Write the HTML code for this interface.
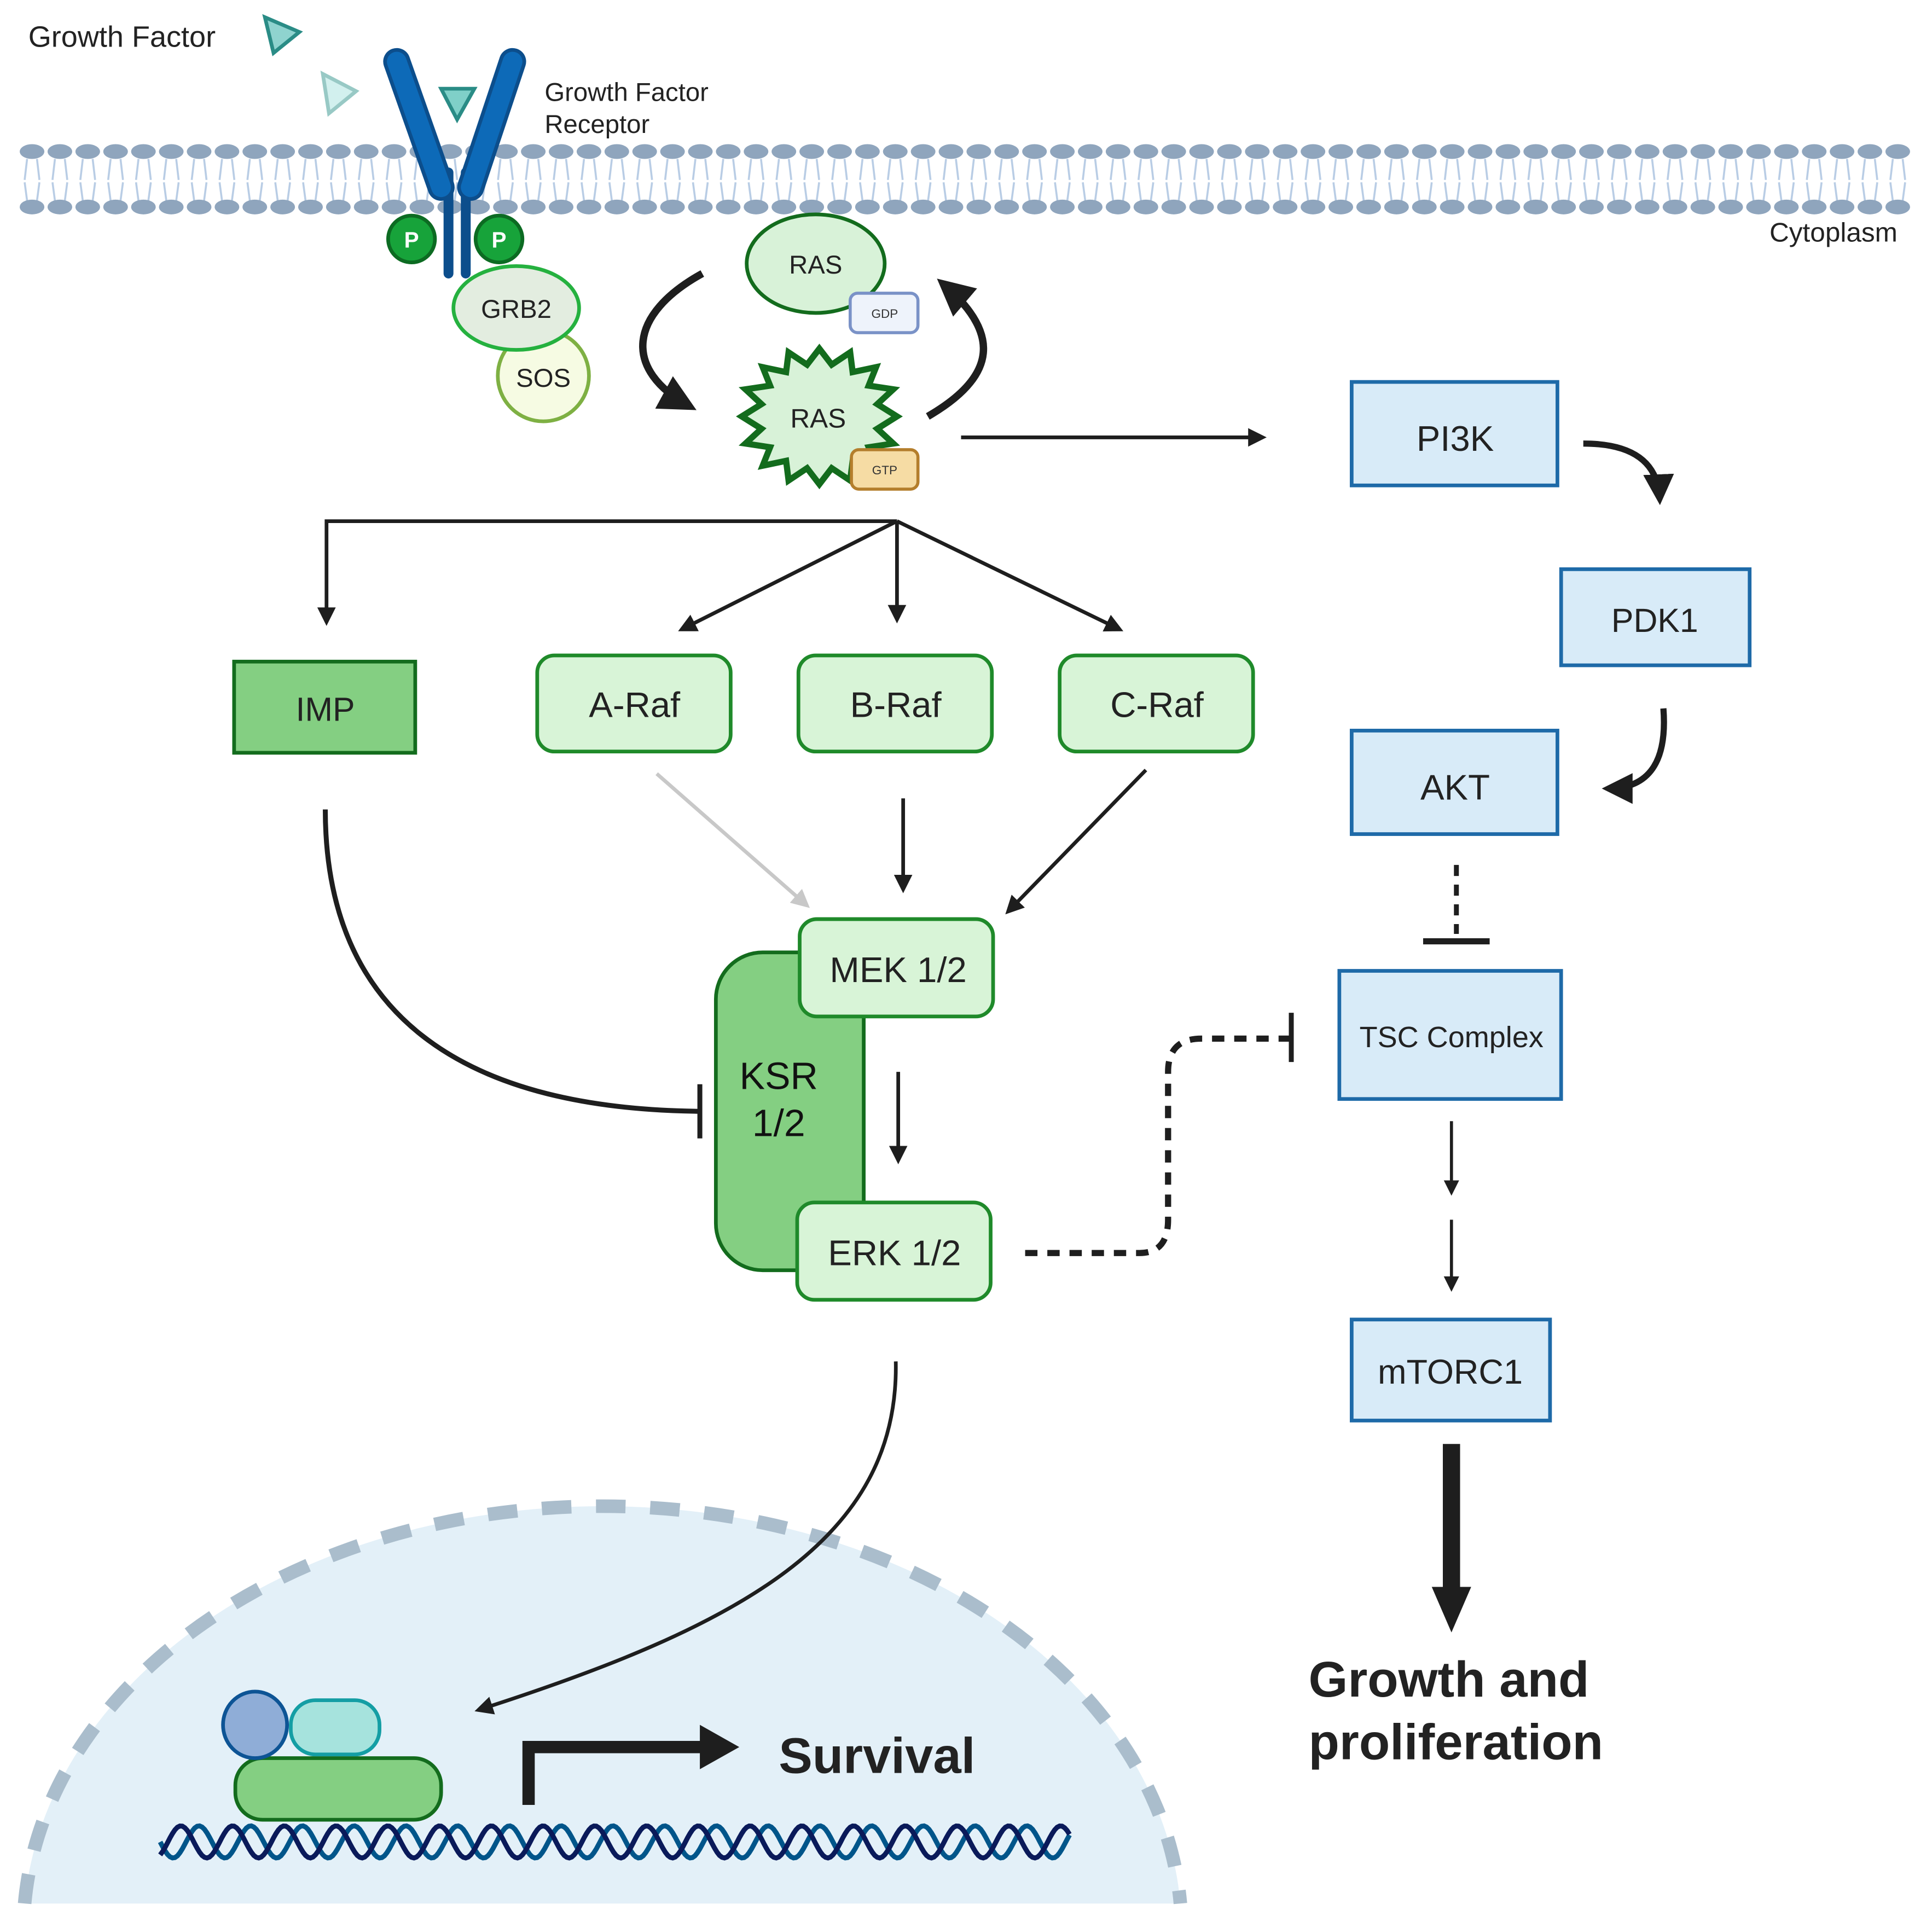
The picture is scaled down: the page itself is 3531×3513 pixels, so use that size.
<!DOCTYPE html>
<html><head><meta charset="utf-8"><style>html,body{margin:0;padding:0;background:#fff}svg{display:block}text{font-family:"Liberation Sans",sans-serif}</style></head>
<body>
<svg width="3531" height="3513" viewBox="0 0 1568 1560" xmlns="http://www.w3.org/2000/svg">
<defs>
<marker id="ah" viewBox="0 0 10 10" refX="8" refY="5" markerWidth="5" markerHeight="5" orient="auto-start-reverse" markerUnits="strokeWidth"><path d="M0,0 L10,5 L0,10 z" fill="#1e1e1e"/></marker>
<marker id="ahg" viewBox="0 0 10 10" refX="8" refY="5" markerWidth="5" markerHeight="5" orient="auto" markerUnits="strokeWidth"><path d="M0,0 L10,5 L0,10 z" fill="#c8c8c8"/></marker>
</defs>
<rect width="1568" height="1560" fill="#fff"/>
<!-- nucleus -->
<path d="M20,1545 A470,345 0 0 1 958,1545 Z" fill="#e3f0f8"/>
<path d="M20,1545 A470,345 0 0 1 958,1545" fill="none" stroke="#aabdcc" stroke-width="11" stroke-dasharray="24,20"/>
<g id="heads"></g>
<script>
(function(){var s="http://www.w3.org/2000/svg";var g=document.getElementById("heads");
for(var x=26;x<1560;x+=22.6){var p=document.createElementNS(s,"path");p.setAttribute("d","M"+(x-4)+",129 l-2,17 M"+(x+4)+",129 l2,17 M"+(x-4)+",163 l-2,-15 M"+(x+4)+",163 l2,-15");p.setAttribute("stroke","#b9cde5");p.setAttribute("stroke-width","1.6");p.setAttribute("fill","none");g.appendChild(p);
[123,168].forEach(function(y){var e=document.createElementNS(s,"ellipse");e.setAttribute("cx",x);e.setAttribute("cy",y);e.setAttribute("rx",10);e.setAttribute("ry",6);e.setAttribute("fill","#8fa5bd");g.appendChild(e);});}
})();
</script>
<text x="1540" y="196" font-size="22" text-anchor="end" fill="#222">Cytoplasm</text>
<!-- growth factor -->
<text x="23" y="38" font-size="24" fill="#222">Growth Factor</text>
<path d="M215,14 L243,26 L222,43 Z" fill="#8fd3cf" stroke="#2a8c86" stroke-width="3"/>
<path d="M262,60 L289,74 L267,92 Z" fill="#d2f0ee" stroke="#98c9c5" stroke-width="3"/>
<!-- receptor -->
<path d="M364,140 V222 M378,140 V222" stroke="#0c4e8c" stroke-width="8" stroke-linecap="round"/>
<path d="M322,50 L358,152" stroke="#0c4e8c" stroke-width="22" stroke-linecap="round"/>
<path d="M322,50 L358,152" stroke="#0d6ab8" stroke-width="16" stroke-linecap="round"/>
<path d="M416,50 L382,152" stroke="#0c4e8c" stroke-width="22" stroke-linecap="round"/>
<path d="M416,50 L382,152" stroke="#0d6ab8" stroke-width="16" stroke-linecap="round"/>
<path d="M358,72 L385,72 L371,97 Z" fill="#7fd0c8" stroke="#2a8c86" stroke-width="3"/>
<text x="442" y="82" font-size="21" fill="#222">Growth Factor</text>
<text x="442" y="108" font-size="21" fill="#222">Receptor</text>
<circle cx="334" cy="194" r="19" fill="#17a33a" stroke="#0c6b22" stroke-width="3"/>
<circle cx="405" cy="194" r="19" fill="#17a33a" stroke="#0c6b22" stroke-width="3"/>
<text x="334" y="201" font-size="18" font-weight="bold" fill="#fff" text-anchor="middle">P</text>
<text x="405" y="201" font-size="18" font-weight="bold" fill="#fff" text-anchor="middle">P</text>
<circle cx="441" cy="305" r="37" fill="#f6fbe3" stroke="#7eb043" stroke-width="3"/>
<ellipse cx="419" cy="250" rx="51" ry="34" fill="#e3ede0" stroke="#25b13f" stroke-width="3"/>
<text x="419" y="258" font-size="21" text-anchor="middle" fill="#222">GRB2</text>
<text x="441" y="314" font-size="21" text-anchor="middle" fill="#222">SOS</text>
<!-- RAS cycle -->
<path d="M570,222 C510,255 505,300 560,330" fill="none" stroke="#1e1e1e" stroke-width="6" marker-end="url(#ah)"/>
<path d="M753,338 C810,305 812,270 765,230" fill="none" stroke="#1e1e1e" stroke-width="6" marker-end="url(#ah)"/>
<ellipse cx="662" cy="214" rx="56" ry="40" fill="#d8f2d8" stroke="#136c1d" stroke-width="3"/>
<text x="662" y="222" font-size="21" text-anchor="middle" fill="#222">RAS</text>
<rect x="690" y="238" width="55" height="32" rx="6" fill="#eef3fb" stroke="#7a92c7" stroke-width="2.5"/>
<text x="718" y="258" font-size="10" text-anchor="middle" fill="#333">GDP</text>
<polygon points="728,338 712,348 725,360 705,363 711,378 692,374 690,390 675,380 665,393 655,380 640,390 638,374 619,378 625,363 605,360 618,348 602,338 618,328 605,316 625,313 619,298 638,302 640,286 655,296 665,283 675,296 690,286 692,302 711,298 705,313 725,316 712,328" fill="#d8f2d8" stroke="#136c1d" stroke-width="5" stroke-linejoin="miter"/>
<text x="664" y="347" font-size="22" text-anchor="middle" fill="#222">RAS</text>
<rect x="691" y="365" width="54" height="32" rx="6" fill="#f6dca4" stroke="#b47e2c" stroke-width="2.5"/>
<text x="718" y="385" font-size="10" text-anchor="middle" fill="#333">GTP</text>
<!-- RAS -> PI3K -->
<path d="M780,355 H1025" stroke="#1e1e1e" stroke-width="3" marker-end="url(#ah)"/>
<!-- branching -->
<path d="M265,505 V423 H728" fill="none" stroke="#1e1e1e" stroke-width="3" marker-start="url(#ah)"/>
<path d="M728,423 V503" stroke="#1e1e1e" stroke-width="3" marker-end="url(#ah)"/>
<path d="M728,423 L553,511" stroke="#1e1e1e" stroke-width="3" marker-end="url(#ah)"/>
<path d="M728,423 L909,511" stroke="#1e1e1e" stroke-width="3" marker-end="url(#ah)"/>
<!-- Raf row -->
<rect x="190" y="537" width="147" height="74" fill="#84cf82" stroke="#136c1d" stroke-width="3"/>
<text x="264" y="585" font-size="27" text-anchor="middle" fill="#222">IMP</text>
<rect x="436" y="532" width="157" height="78" rx="14" fill="#d8f4d7" stroke="#1f8a2a" stroke-width="3"/>
<text x="515" y="582" font-size="29" text-anchor="middle" fill="#222">A-Raf</text>
<rect x="648" y="532" width="157" height="78" rx="14" fill="#d8f4d7" stroke="#1f8a2a" stroke-width="3"/>
<text x="727" y="582" font-size="29" text-anchor="middle" fill="#222">B-Raf</text>
<rect x="860" y="532" width="157" height="78" rx="14" fill="#d8f4d7" stroke="#1f8a2a" stroke-width="3"/>
<text x="939" y="582" font-size="29" text-anchor="middle" fill="#222">C-Raf</text>
<!-- Raf -> MEK -->
<path d="M533,628 L655,735" stroke="#c8c8c8" stroke-width="3" marker-end="url(#ahg)"/>
<path d="M733,648 V722" stroke="#1e1e1e" stroke-width="3" marker-end="url(#ah)"/>
<path d="M930,625 L818,740" stroke="#1e1e1e" stroke-width="3" marker-end="url(#ah)"/>
<!-- KSR -->
<rect x="581" y="773" width="120" height="258" rx="38" fill="#84cf82" stroke="#136c1d" stroke-width="3"/>
<text x="632" y="884" font-size="31" text-anchor="middle" fill="#111">KSR</text>
<text x="632" y="922" font-size="31" text-anchor="middle" fill="#111">1/2</text>
<rect x="649" y="746" width="157" height="79" rx="14" fill="#d8f4d7" stroke="#1f8a2a" stroke-width="3"/>
<text x="729" y="797" font-size="29" text-anchor="middle" fill="#222">MEK 1/2</text>
<rect x="647" y="976" width="157" height="79" rx="14" fill="#d8f4d7" stroke="#1f8a2a" stroke-width="3"/>
<text x="726" y="1027" font-size="29" text-anchor="middle" fill="#222">ERK 1/2</text>
<path d="M729,870 V942" stroke="#1e1e1e" stroke-width="3" marker-end="url(#ah)"/>
<!-- IMP inhibit -->
<path d="M264,657 C264,820 370,900 568,902" fill="none" stroke="#1e1e1e" stroke-width="4"/>
<path d="M568,880 V924" stroke="#1e1e1e" stroke-width="4"/>
<!-- ERK -> TSC dotted -->
<path d="M832,1017 H925 Q948,1017 948,990 V870 Q948,843 975,843 H1046" fill="none" stroke="#1e1e1e" stroke-width="5" stroke-dasharray="10,8"/>
<path d="M1048,822 V862" stroke="#1e1e1e" stroke-width="4"/>
<!-- ERK -> nucleus -->
<path d="M727,1105 C730,1250 600,1320 388,1388" fill="none" stroke="#1e1e1e" stroke-width="3" marker-end="url(#ah)"/>
<!-- transcription -->
<rect x="191" y="1427" width="167" height="50" rx="22" fill="#84cf82" stroke="#136c1d" stroke-width="3"/>
<ellipse cx="207" cy="1400" rx="26" ry="27" fill="#8fadd7" stroke="#0d5495" stroke-width="3"/>
<rect x="236" y="1380" width="72" height="44" rx="20" fill="#a6e3dd" stroke="#149ea4" stroke-width="3"/>
<path d="M429,1465 V1418 H570" fill="none" stroke="#1e1e1e" stroke-width="10"/>
<path d="M568,1400 L600,1418 L568,1436 Z" fill="#1e1e1e"/>
<text x="632" y="1439" font-size="41" font-weight="bold" fill="#222">Survival</text>
<g fill="none" stroke-width="4">
<path id="dna1" stroke="#00558a" d=""/>
<path id="dna2" stroke="#0a1a5a" d=""/>
</g>
<script>
(function(){function w(ph){var d="";for(var x=130;x<=868;x+=2){var y=1495+13*Math.sin((x-130)/42*2*Math.PI+ph);d+=(x==130?"M":"L")+x+","+y.toFixed(1)+" ";}return d;}
document.getElementById("dna1").setAttribute("d",w(0));document.getElementById("dna2").setAttribute("d",w(Math.PI*0.7));})();
</script>
<!-- right side -->
<rect x="1097" y="310" width="167" height="84" fill="#d8ebf8" stroke="#1e6aa8" stroke-width="3"/>
<text x="1181" y="366" font-size="29" text-anchor="middle" fill="#222">PI3K</text>
<path d="M1285,360 Q1345,360 1347,405" fill="none" stroke="#1e1e1e" stroke-width="5" marker-end="url(#ah)"/>
<rect x="1267" y="462" width="153" height="78" fill="#d8ebf8" stroke="#1e6aa8" stroke-width="3"/>
<text x="1343" y="513" font-size="27" text-anchor="middle" fill="#222">PDK1</text>
<path d="M1350,575 Q1355,640 1305,640" fill="none" stroke="#1e1e1e" stroke-width="5" marker-end="url(#ah)"/>
<rect x="1097" y="593" width="167" height="84" fill="#d8ebf8" stroke="#1e6aa8" stroke-width="3"/>
<text x="1181" y="649" font-size="29" text-anchor="middle" fill="#222">AKT</text>
<path d="M1182,702 V758" stroke="#1e1e1e" stroke-width="4" stroke-dasharray="9,7"/>
<path d="M1155,764 H1209" stroke="#1e1e1e" stroke-width="5"/>
<rect x="1087" y="788" width="180" height="104" fill="#d8ebf8" stroke="#1e6aa8" stroke-width="3"/>
<text x="1178" y="850" font-size="24" text-anchor="middle" fill="#222">TSC Complex</text>
<path d="M1178,910 V968" stroke="#1e1e1e" stroke-width="2.5" marker-end="url(#ah)"/>
<path d="M1178,990 V1046" stroke="#1e1e1e" stroke-width="2.5" marker-end="url(#ah)"/>
<rect x="1097" y="1071" width="161" height="82" fill="#d8ebf8" stroke="#1e6aa8" stroke-width="3"/>
<text x="1177" y="1123" font-size="28" text-anchor="middle" fill="#222">mTORC1</text>
<path d="M1178,1172 V1290" stroke="#1e1e1e" stroke-width="14"/>
<path d="M1162,1288 L1194,1288 L1178,1325 Z" fill="#1e1e1e"/>
<text x="1062" y="1377" font-size="41" font-weight="bold" fill="#222">Growth and</text>
<text x="1062" y="1428" font-size="41" font-weight="bold" fill="#222">proliferation</text>
</svg>
</body></html>
